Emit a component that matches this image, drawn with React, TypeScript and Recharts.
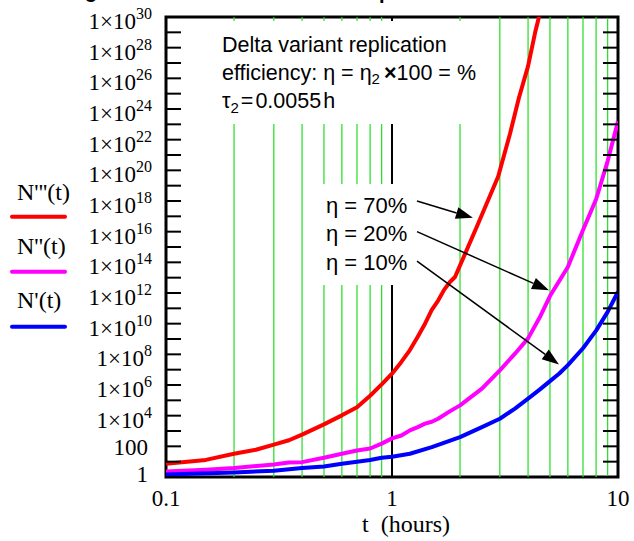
import { LineChart, Line, XAxis, YAxis, ReferenceLine, ReferenceArea } from "recharts";

// curve samples (t in hours, N on log scale)
const tRed = [0.1, 0.15, 0.2, 0.25, 0.3, 0.35, 0.4, 0.5, 0.6, 0.7, 0.8, 0.9, 1, 1.1, 1.2, 1.3, 1.4, 1.5, 1.6, 1.7, 1.8, 1.9, 2.37, 2.95, 3.33, 3.64, 4.0, 4.3, 4.47, 4.55];
const nRed = [7.2, 13, 33, 60, 1.3e2, 2.5e2, 5.8e2, 2.7e3, 1.05e4, 3.6e4, 2.0e5, 1.1e6, 5.5e6, 3.2e7, 1.9e8, 1.4e9, 1.0e10, 7.9e10, 3.2e11, 1.6e12, 5.0e12, 1.1e13, 2.0e16, 4.0e19, 2.5e22, 5.0e24, 6.3e26, 1.0e29, 1.0e30, 4.0e30];

const tMagenta = [0.1, 0.15, 0.2, 0.3, 0.35, 0.4, 0.5, 0.6, 0.7, 0.8, 0.9, 1, 1.1, 1.2, 1.3, 1.4, 1.5, 1.6, 1.8, 2, 2.5, 3, 3.5, 4, 4.5, 5, 6, 7, 8, 9, 10];
const nMagenta = [2.3, 3.0, 3.8, 6.6, 8.9, 9.3, 18, 33, 54, 72, 1.5e2, 3.3e2, 5.1e2, 1.1e3, 1.8e3, 3.0e3, 4.0e3, 6.3e3, 1.9e4, 4.7e4, 5.8e5, 9.1e6, 1.1e8, 1.1e9, 2.5e10, 6.3e11, 5.0e13, 1.3e16, 1.3e18, 4.0e20, 1.6e23];

const tBlue = [0.1, 0.2, 0.3, 0.4, 0.5, 0.6, 0.7, 0.8, 0.9, 1, 1.2, 1.5, 2, 2.5, 3, 3.5, 4, 4.5, 5, 5.5, 6, 7, 8, 9, 10];
const nBlue = [1.45, 2.0, 2.6, 3.8, 4.9, 7.2, 10, 13, 18, 21, 33, 89, 4.0e2, 1.8e3, 6.3e3, 2.9e4, 1.3e5, 5.0e5, 1.8e6, 5.6e6, 2.0e7, 2.5e8, 3.5e9, 5.9e10, 1.2e12];

const xTicks = [0.1, 1, 10];
const xMinor = [0.2, 0.3, 0.4, 0.5, 0.6, 0.7, 0.8, 0.9, 2, 3, 4, 5, 6, 7, 8, 9];
const yTicks = Array.from({ length: 31 }, (_, i) => Number("1e" + i));

const etaLabels = ["η = 70%", "η = 20%", "η = 10%"];
// arrows from the eta labels to the curves, in data units
const arrows = [
  [{ x: 1.29, y: 1e18 }, { x: 2.28, y: 8e16 }],
  [{ x: 1.29, y: 1e16 }, { x: 4.95, y: 1.5e12 }],
  [{ x: 1.29, y: 1.2e14 }, { x: 5.48, y: 2.2e7 }],
];

const series = [
  { name: "N'''(t)", color: "#ff0000", t: tRed, n: nRed },
  { name: "N''(t)", color: "#ff00ff", t: tMagenta, n: nMagenta },
  { name: "N'(t)", color: "#0000ff", t: tBlue, n: nBlue },
];

const W = 634;
const H = 541;
const LEFT = 166;
const RIGHT = 16;
const PLOT_W = W - LEFT - RIGHT;
const SERIF = "'Liberation Serif', 'Times New Roman', serif";
const SANS = "'Liberation Sans', Arial, sans-serif";
const GREEN = "#1ee01e";

function YTick({ x, y, payload }: any) {
  const exp = Math.round(Math.log10(payload.value));
  let label = null;
  if (exp === 0 || exp === 2) {
    label = (
      <text x={x - 18} y={y + (exp === 0 ? 5 : 9)} textAnchor="end" fontFamily={SERIF} fontSize={23} fill="#000">
        {exp === 0 ? "1" : "100"}
      </text>
    );
  } else if (exp % 2 === 0) {
    label = (
      <text x={x - 14} y={y + 12} textAnchor="end" fontFamily={SERIF} fontSize={23} fill="#000">
        1×10
        <tspan fontSize={16} dy={-10}>{exp}</tspan>
      </text>
    );
  }
  return (
    <g>
      <line x1={x} y1={y} x2={x + 15} y2={y} stroke="#000" strokeWidth={2} />
      <line x1={x + PLOT_W} y1={y} x2={x + PLOT_W - 15} y2={y} stroke="#000" strokeWidth={2} />
      {label}
    </g>
  );
}

function XTick({ x, y, payload }: any) {
  return (
    <text x={x} y={y + 29} textAnchor="middle" fontFamily={SERIF} fontSize={23} fill="#000">
      {String(payload.value)}
    </text>
  );
}

function Arrow({ x1, y1, x2, y2 }: any) {
  const a = Math.atan2(y2 - y1, x2 - x1);
  const len = 17;
  const half = 6;
  const bx = x2 - len * Math.cos(a);
  const by = y2 - len * Math.sin(a);
  const pts = [
    [x2, y2],
    [bx - half * Math.sin(a), by + half * Math.cos(a)],
    [bx + half * Math.sin(a), by - half * Math.cos(a)],
  ];
  return (
    <g>
      <line x1={x1} y1={y1} x2={bx} y2={by} stroke="#000" strokeWidth={1.5} />
      <polygon points={pts.map((p) => p.join(",")).join(" ")} fill="#000" />
    </g>
  );
}

export default function App() {
  return (
    <div style={{ position: "absolute", left: 0, top: 0, width: W, height: H, background: "#fff" }}>
      <LineChart width={W} height={H} margin={{ top: 17, right: RIGHT, bottom: 0, left: 0 }}>
        <XAxis
          dataKey="t"
          type="number"
          scale="log"
          domain={[0.1, 10]}
          allowDataOverflow
          ticks={xTicks}
          interval={0}
          height={64}
          tickSize={0}
          tickMargin={0}
          tickLine={false}
          axisLine={false}
          tick={XTick}
          label={({ viewBox }: any) => (
            <text
              x={viewBox.x + viewBox.width / 2 + 14}
              y={viewBox.y + 55}
              textAnchor="middle"
              fontFamily={SERIF}
              fontSize={24}
              fill="#000"
            >
              {"t\u00a0\u00a0(hours)"}
            </text>
          )}
        />
        <YAxis
          type="number"
          scale="log"
          domain={[1, 1e30]}
          allowDataOverflow
          ticks={yTicks}
          interval={0}
          width={LEFT}
          tickSize={0}
          tickMargin={0}
          tickLine={false}
          axisLine={false}
          tick={YTick}
        />
        {xMinor.map((v) => (
          <ReferenceLine key={v} x={v} stroke={GREEN} strokeWidth={1.2} />
        ))}
        <ReferenceLine x={1} stroke="#000" strokeWidth={2} />
        {series.map((s) => (
          <Line
            key={s.name}
            data={s.t.map((t, i) => ({ t, n: s.n[i] }))}
            dataKey="n"
            type="linear"
            stroke={s.color}
            strokeWidth={4}
            strokeLinejoin="round"
            dot={false}
            activeDot={false}
            isAnimationActive={false}
          />
        ))}
        <ReferenceArea x1={0.1} x2={10} y1={1} y2={1e30} fill="none" fillOpacity={0} stroke="#000" strokeWidth={3} />
        {arrows.map((seg, i) => (
          <ReferenceLine key={"a" + i} segment={seg} shape={Arrow} ifOverflow="visible" />
        ))}
      </LineChart>

      <svg width={W} height={H} style={{ position: "absolute", left: 0, top: 0, pointerEvents: "none" }}>
        {/* title above the figure, cropped off in the source picture */}
        <text x={85} y={-2} fontFamily={SANS} fontWeight="bold" fontSize={20} fill="#000">g</text>
        <text x={379} y={-1} fontFamily={SANS} fontWeight="bold" fontSize={20} fill="#000">p</text>

        <rect x={212} y={21} width={266} height={103} fill="#fff" />
        <g fontFamily={SANS} fontSize={21.5} fill="#000">
          <text x={222} y={52}>Delta variant replication</text>
          <text x={222} y={80}>
            efficiency: η = η<tspan fontSize={15} dy={4}>2</tspan>
            <tspan dy={-4} dx={4} fontWeight="bold">×</tspan>100 = %
          </text>
          <text x={222} y={108}>
            τ<tspan fontSize={15} dy={5}>2</tspan>
            <tspan dy={-5} dx={2}>=</tspan>
            <tspan dx={2}>0.0055</tspan>
            <tspan dx={2}>h</tspan>
          </text>
        </g>

        <rect x={316} y={184} width={97} height={101} fill="#fff" />
        {etaLabels.map((s, i) => (
          <text key={s} x={326} y={213 + i * 28.3} fontFamily={SANS} fontSize={22} fill="#000">
            {s}
          </text>
        ))}

        {series.map((s, i) => (
          <g key={s.name}>
            <text x={17} y={200 + i * 54} fontFamily={SERIF} fontSize={24} fill="#000">
              {s.name}
            </text>
            <line x1={12} y1={216.7 + i * 55} x2={65} y2={216.7 + i * 55} stroke={s.color} strokeWidth={4} strokeLinecap="round" />
          </g>
        ))}
      </svg>
    </div>
  );
}
